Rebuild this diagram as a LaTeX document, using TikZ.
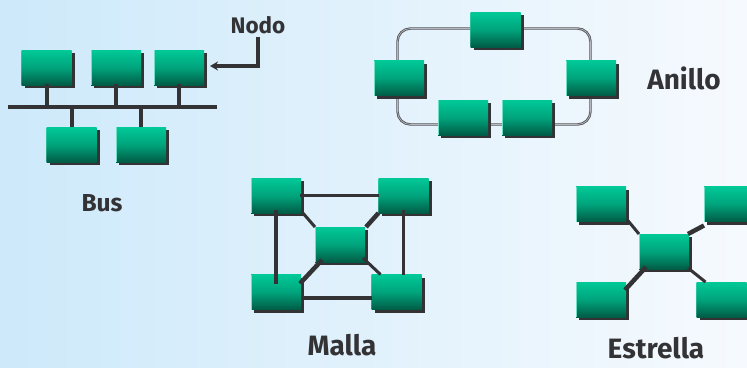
\documentclass[tikz,border=0pt]{standalone}
\usepackage{fontspec}
\setmainfont{Fira Sans}
\usetikzlibrary{shadows,calc,arrows.meta}
\definecolor{bgL}{HTML}{CDE9FA}
\definecolor{bgR}{HTML}{F6FAFE}
\definecolor{gTop}{HTML}{00C997}
\definecolor{gMid}{HTML}{00A47C}
\definecolor{gBot}{HTML}{005C46}
\definecolor{gEdge}{HTML}{6FE0C4}
\definecolor{shad}{HTML}{333336}
\definecolor{ink}{HTML}{333336}
\definecolor{ringc}{HTML}{55565C}
\definecolor{ringl}{HTML}{B4B6BC}
\tikzset{
  nbox/.style={minimum width=50pt, minimum height=35pt, inner sep=0pt, outer sep=0pt,
    top color=gTop, bottom color=gBot, middle color=gMid,
    general shadow={fill=shad, shadow xshift=3pt, shadow yshift=-3pt},
    path picture={\draw[gEdge, line width=1.2pt] (path picture bounding box.south west) -- (path picture bounding box.north west);}},
  buswire/.style={draw=ink, line width=4pt},
  wire/.style={draw=ink, line width=3.5pt},
  thinwire/.style={draw=ink, line width=3pt},
  thickwire/.style={draw=ink, line width=4.5pt},
  lbl/.style={text=ink, font=\bfseries\fontsize{28}{32}\selectfont, inner sep=0pt}
}
\begin{document}
\begin{tikzpicture}[x=1pt,y=-1pt]
\useasboundingbox (0,0) rectangle (747,367);
\shade[left color=bgL, right color=bgR] (0,0) rectangle (747,367);

% ---------- Bus ----------
\coordinate (busL) at (8,107);
\coordinate (busR) at (217,107);
\node[nbox] (b1) at (46.5,67.5) {};
\node[nbox] (b2) at (116,67.5) {};
\node[nbox] (b3) at (179,67.5) {};
\node[nbox] (b4) at (71.5,144.5) {};
\node[nbox] (b5) at (141,144.5) {};
\draw[buswire] (busL) -- (busR);
\draw[buswire] ([yshift=1pt]b1.south) -- (b1.south |- busL);
\draw[buswire] ([yshift=1pt]b2.south) -- (b2.south |- busL);
\draw[buswire] ([yshift=1pt]b3.south) -- (b3.south |- busL);
\draw[buswire] (b4.north) -- (b4.north |- busL);
\draw[buswire] (b5.north) -- (b5.north |- busL);
\node[lbl, font=\bfseries\fontsize{22.5}{26}\selectfont] (nodo) at (258,25) {Nodo};
\node[lbl, font=\bfseries\fontsize{24.5}{28}\selectfont] (bus) at (102,203) {Bus};
\draw[buswire, -{Stealth[length=8pt,width=9pt]}] ([yshift=-3pt]nodo.south) |- ([xshift=6pt,yshift=1.5pt]b3.east);

% ---------- Anillo ----------
\coordinate (rTL) at (397.5,28.5);
\coordinate (rBR) at (590.5,124.5);
\draw[ringc, line width=2.4pt, rounded corners=13pt] (rTL) rectangle (rBR);
\draw[ringl, line width=0.7pt, rounded corners=13pt] (rTL) rectangle (rBR);
\node[nbox] (r1) at (495.5,29.5) {};
\node[nbox] (r2) at (399,78) {};
\node[nbox] (r3) at (591,78) {};
\node[nbox] (r4) at (463,117.5) {};
\node[nbox] (r5) at (527,117.5) {};
\node[lbl] (anillo) at (684,78) {Anillo};

% ---------- Malla ----------
\node[nbox] (m1) at (276,195.5) {};
\node[nbox] (m2) at (403.5,195.5) {};
\node[nbox] (m3) at (340,244.5) {};
\node[nbox] (m4) at (276,292) {};
\node[nbox] (m5) at (396.5,292) {};
\draw[wire] ([xshift=-1pt]m1.east) -- (m2.west);
\draw[wire] ([yshift=3pt]m1.south) -- ([yshift=-9pt]m4.north);
\draw[wire] ([yshift=3pt]m2.south) -- (m2.south |- m5.north);
\draw[wire] ([yshift=-6pt]m4.east) -- ([yshift=-6pt]m5.west);
\draw[thinwire] ([shift={(1,-1)}]m1.south east) -- (m3.north west);
\draw[thickwire] (m2.south west) -- ([xshift=1pt]m3.north east);
\draw[thickwire] ([shift={(7,-2)}]m3.south west) -- ([shift={(-1,9)}]m4.north east);
\draw[thinwire] ([shift={(-2,-4)}]m3.south east) -- ([xshift=9pt]m5.north west);
\node[lbl] (malla) at (342,345) {Malla};

% ---------- Estrella ----------
\node[nbox] (s1) at (601,204) {};
\node[nbox] (s2) at (729,204) {};
\node[nbox] (s3) at (664,251.5) {};
\node[nbox] (s4) at (601,299.5) {};
\node[nbox] (s5) at (721.5,299.5) {};
\draw[thinwire] ([shift={(1,-2)}]s1.south east) -- (s3.north west);
\draw[thickwire] ([yshift=-4pt]s2.south west) -- ([xshift=-1pt]s3.north east);
\draw[thickwire] ([shift={(7,-2)}]s3.south west) -- ([shift={(-1,8)}]s4.north east);
\draw[thinwire] ([shift={(-1,-1)}]s3.south east) -- ([xshift=9pt]s5.north west);
\node[lbl, anchor=base] (estrella) at (656,358) {Estrella};
\end{tikzpicture}
\end{document}
